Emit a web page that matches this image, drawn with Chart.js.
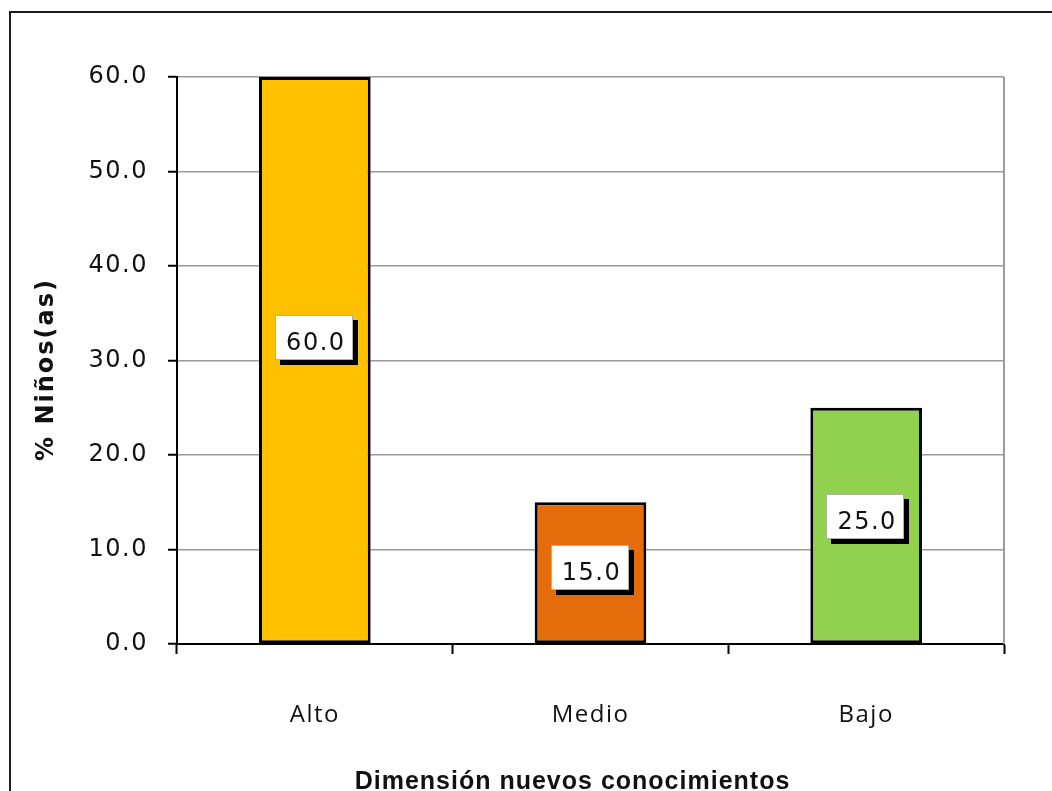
<!DOCTYPE html>
<html>
<head>
<meta charset="utf-8">
<script src="https://cdn.jsdelivr.net/npm/chart.js@4/dist/chart.umd.min.js"></script>
<style>
  html, body { margin: 0; padding: 0; background: #fff; overflow: hidden; }
  #wrap { position: relative; width: 1052px; height: 791px; }
  #frame { position: absolute; left: 9px; top: 11px; width: 2000px; height: 2000px;
           border: 2px solid #1c1c1c; pointer-events: none; }
</style>
</head>
<body>
<div id="wrap"><canvas id="c"></canvas><div id="frame"></div></div>
<script>
// Chart data
const categories = ['Alto', 'Medio', 'Bajo'];
const percentages = [60.0, 15.0, 25.0];
const barColors = ['#FFC000', '#E46C0A', '#92D050'];
const yTicks = [0, 10, 20, 30, 40, 50, 60];
const xTitle = 'Dimensión nuevos conocimientos';
const yTitle = '% Niños(as)';

// Slightly spaced lettering used by the axis ticks
const spacing = {
  id: 'spacing',
  beforeDraw(chart) { chart.ctx.letterSpacing = '1.5px'; }
};

// Grey right edge of the plot area
const plotEdge = {
  id: 'plotEdge',
  beforeDatasetsDraw(chart) {
    const { ctx, chartArea } = chart;
    ctx.save();
    ctx.strokeStyle = '#9a9a9a';
    ctx.lineWidth = 2;
    ctx.beginPath();
    ctx.moveTo(chartArea.right, chartArea.top);
    ctx.lineTo(chartArea.right, chartArea.bottom);
    ctx.stroke();
    ctx.restore();
  }
};

// White value boxes with a hard black drop shadow, placed a little above mid-bar
const valueBoxes = {
  id: 'valueBoxes',
  afterDatasetsDraw(chart) {
    const ctx = chart.ctx;
    const ds = chart.data.datasets[0];
    const meta = chart.getDatasetMeta(0);
    const yScale = chart.scales.y;
    ctx.save();
    ctx.font = '24px "DejaVu Sans"';
    ctx.letterSpacing = '1.5px';
    meta.data.forEach((bar, i) => {
      const v = ds.data[i];
      const cx = bar.x - 1;
      const cy = yScale.getPixelForValue(v * 0.54);
      const w = 78, h = 45;
      const x0 = Math.round(cx - w / 2), y0 = Math.round(cy - h / 2);
      ctx.fillStyle = '#000';
      ctx.fillRect(x0 + 5, y0 + 5, w, h);
      ctx.fillStyle = '#fff';
      ctx.fillRect(x0, y0, w, h);
      ctx.strokeStyle = '#b0b0b0';
      ctx.lineWidth = 1;
      ctx.strokeRect(x0 + 0.5, y0 + 0.5, w - 1, h - 1);
      ctx.fillStyle = '#111';
      ctx.textAlign = 'center';
      ctx.textBaseline = 'middle';
      ctx.fillText(v.toFixed(1), cx + 2, cy + 6);
    });
    ctx.restore();
  }
};

// Axis titles
const axisTitles = {
  id: 'axisTitles',
  afterDraw(chart) {
    const { ctx, chartArea } = chart;
    ctx.save();
    ctx.fillStyle = '#111';
    ctx.textAlign = 'center';
    ctx.textBaseline = 'middle';
    ctx.font = 'bold 25px "Liberation Sans"';
    ctx.letterSpacing = '1px';
    ctx.fillText(xTitle, (chartArea.left + chartArea.right) / 2 - 18, 782);
    ctx.translate(47, (chartArea.top + chartArea.bottom) / 2 + 9);
    ctx.rotate(-Math.PI / 2);
    ctx.font = 'bold 24px "DejaVu Sans"';
    ctx.letterSpacing = '2px';
    ctx.fillText(yTitle, 0, 0);
    ctx.restore();
  }
};

new Chart(document.getElementById('c'), {
  type: 'bar',
  data: {
    labels: categories,
    datasets: [{
      data: percentages,
      backgroundColor: barColors,
      borderColor: '#000',
      borderWidth: 3,
      borderSkipped: false,
      barPercentage: 0.405,
      categoryPercentage: 1
    }]
  },
  options: {
    responsive: true,
    maintainAspectRatio: false,
    animation: false,
    layout: { padding: { top: 77, right: 48, left: 0, bottom: 0 } },
    plugins: { legend: { display: false }, tooltip: { enabled: false } },
    scales: {
      x: {
        grid: { drawOnChartArea: false, drawTicks: true, tickLength: 10,
                tickColor: '#000', tickWidth: 2, offset: true },
        border: { color: '#000', width: 2 },
        ticks: { font: { family: 'Open Sans', size: 24 }, color: '#111', padding: 47 },
        afterFit(s) { s.height = 147; }
      },
      y: {
        min: 0,
        max: 60,
        afterBuildTicks(s) { s.ticks = yTicks.map(v => ({ value: v })); },
        ticks: { callback: v => Number(v).toFixed(1),
                 font: { family: 'DejaVu Sans', size: 24 }, color: '#111', padding: 20 },
        grid: { color: '#9a9a9a', lineWidth: 1.5, tickLength: 9,
                tickColor: '#000', tickWidth: 2 },
        border: { color: '#000', width: 2 },
        afterFit(s) { s.width = 177; }
      }
    }
  },
  plugins: [spacing, plotEdge, valueBoxes, axisTitles]
});
</script>
</body>
</html>
